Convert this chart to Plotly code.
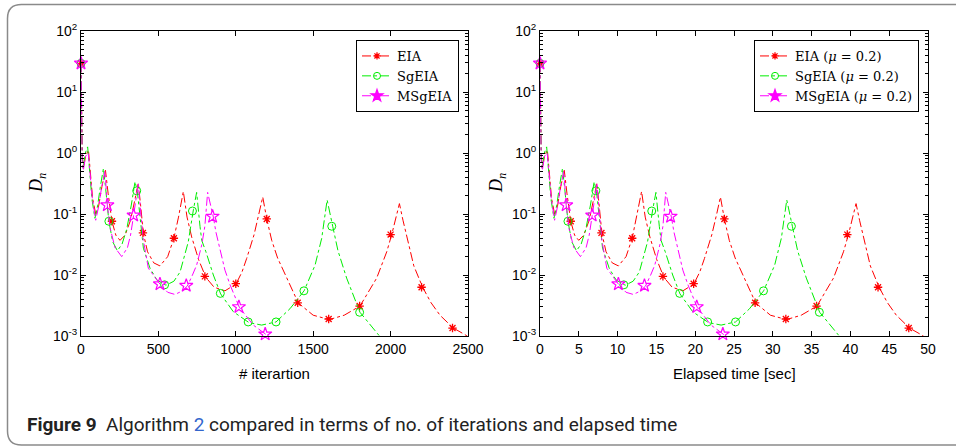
import plotly.graph_objects as go

# ---------------- data ----------------
# EIA (red)
iter_eia = [0, 3, 8, 15, 30, 48, 60, 75, 97, 115,
            135, 158, 175, 200, 225, 252, 285, 320, 350, 370,
            385, 403, 430, 470, 510, 560, 600, 630, 661, 685,
            715, 760, 807, 860, 930, 1001, 1040, 1070, 1118, 1150,
            1174, 1200, 1232, 1270, 1307, 1350, 1404, 1500, 1604, 1700,
            1802, 1910, 1975, 2007, 2035, 2057, 2080, 2109, 2150, 2207,
            2260, 2319, 2405, 2481, 2550]
time_eia = [0, 0.06, 0.16, 0.30, 0.59, 0.95, 1.19, 1.49, 1.92, 2.28,
            2.67, 3.13, 3.47, 3.96, 4.46, 4.99, 5.64, 6.34, 6.93, 7.33,
            7.62, 7.98, 8.51, 9.31, 10.10, 11.09, 11.88, 12.47, 13.09, 13.56,
            14.16, 15.05, 15.98, 17.03, 18.41, 19.82, 20.59, 21.19, 22.14, 22.77,
            23.25, 23.76, 24.39, 25.15, 25.88, 26.73, 27.80, 29.70, 31.76, 33.66,
            35.68, 37.82, 39.11, 39.74, 40.29, 40.73, 41.18, 41.76, 42.57, 43.70,
            44.75, 45.92, 47.62, 49.12, 50.49]
d_eia = [29.5, 4.0, 1.0, 0.56, 0.89, 1.12, 0.45, 0.18, 0.095, 0.14,
         0.28, 0.52, 0.22, 0.076, 0.045, 0.037, 0.045, 0.079, 0.18, 0.32,
         0.14, 0.048, 0.024, 0.0158, 0.0141, 0.020, 0.040, 0.089, 0.234, 0.089,
         0.042, 0.0178, 0.0091, 0.0063, 0.0055, 0.0071, 0.0112, 0.0186, 0.0457, 0.10,
         0.19, 0.083, 0.037, 0.019, 0.012, 0.0066, 0.00347, 0.00219, 0.00186, 0.00219,
         0.00309, 0.0089, 0.024, 0.0457, 0.089, 0.148, 0.079, 0.037, 0.0141, 0.0063,
         0.00355, 0.00219, 0.00135, 0.00105, 0.0008]
mk_iter_eia = [0, 200, 400, 600, 800, 1000, 1200, 1400, 1600, 1800, 2000, 2200, 2400]
mk_time_eia = [0, 3.96, 7.92, 11.88, 15.84, 19.8, 23.76, 27.72, 31.68, 35.64, 39.6, 43.56, 47.52]
mk_d_eia = [29.5, 0.076, 0.049, 0.040, 0.0095, 0.0072, 0.083, 0.0035, 0.0019, 0.0031, 0.046, 0.0063, 0.00135]

# SgEIA (green)
iter_sg = [0, 3, 8, 14, 28, 43, 55, 70, 90, 108,
           125, 145, 160, 180, 205, 235, 265, 295, 325, 349,
           364, 385, 403, 446, 490, 549, 600, 640, 693, 726,
           747, 769, 780, 807, 855, 902, 984, 1085, 1167, 1260,
           1350, 1441, 1512, 1555, 1575, 1590, 1626, 1660, 1716, 1802,
           1931, 1990]
time_sg = [0, 0.06, 0.16, 0.28, 0.56, 0.86, 1.10, 1.40, 1.80, 2.16,
           2.50, 2.90, 3.20, 3.60, 4.10, 4.70, 5.30, 5.90, 6.50, 6.98,
           7.28, 7.70, 8.06, 8.92, 9.80, 10.98, 12.00, 12.80, 13.86, 14.52,
           14.94, 15.38, 15.60, 16.14, 17.10, 18.04, 19.68, 21.70, 23.34, 25.20,
           27.00, 28.82, 30.24, 31.10, 31.50, 31.80, 32.52, 33.20, 34.32, 36.04,
           38.62, 39.80]
d_sg = [29.5, 3.2, 0.8, 0.56, 1.0, 1.26, 0.5, 0.18, 0.085, 0.14,
        0.28, 0.56, 0.25, 0.076, 0.035, 0.025, 0.032, 0.056, 0.14, 0.34,
        0.234, 0.079, 0.0275, 0.0129, 0.0083, 0.0068, 0.0079, 0.0112, 0.035, 0.117,
        0.226, 0.062, 0.037, 0.024, 0.010, 0.0049, 0.0025, 0.00166, 0.00151, 0.0017,
        0.0028, 0.0055, 0.0145, 0.040, 0.089, 0.17, 0.063, 0.025, 0.0089, 0.00245,
        0.00098, 0.0007]
mk_iter_sg = [0, 180, 360, 540, 720, 900, 1080, 1260, 1440, 1620, 1800]
mk_time_sg = [0, 3.6, 7.2, 10.8, 14.4, 18.0, 21.6, 25.2, 28.8, 32.4, 36.0]
mk_d_sg = [29.5, 0.076, 0.24, 0.0069, 0.112, 0.005, 0.0017, 0.0017, 0.0055, 0.063, 0.00245]

# MSgEIA (magenta)
iter_msg = [0, 3, 8, 15, 30, 47, 58, 73, 95, 112,
            132, 155, 170, 190, 220, 263, 300, 320, 340, 355,
            370, 385, 403, 435, 510, 560, 607, 650, 687, 720,
            747, 780, 800, 818, 835, 855, 872, 898, 930, 963,
            1023, 1113, 1195, 1260]
time_msg = [0, 0.06, 0.16, 0.30, 0.59, 0.93, 1.15, 1.45, 1.88, 2.22,
            2.61, 3.07, 3.37, 3.76, 4.36, 5.21, 5.94, 6.34, 6.73, 7.03,
            7.33, 7.62, 7.98, 8.61, 10.10, 11.09, 12.02, 12.87, 13.60, 14.26,
            14.79, 15.44, 15.84, 16.20, 16.53, 16.93, 17.27, 17.78, 18.41, 19.07,
            20.26, 22.04, 23.66, 24.95]
d_msg = [29.5, 2.5, 0.71, 0.52, 0.89, 1.0, 0.5, 0.18, 0.079, 0.126,
         0.26, 0.50, 0.14, 0.056, 0.028, 0.020, 0.028, 0.045, 0.095, 0.18,
         0.32, 0.112, 0.037, 0.0129, 0.0071, 0.0052, 0.0048, 0.0054, 0.0066, 0.010,
         0.0145, 0.031, 0.063, 0.226, 0.15, 0.089, 0.05, 0.025, 0.012, 0.0069,
         0.00295, 0.00151, 0.00105, 0.0008]
mk_iter_msg = [0, 170, 340, 510, 680, 850, 1020, 1190]
mk_time_msg = [0, 3.37, 6.73, 10.1, 13.46, 16.83, 20.2, 23.56]
mk_d_msg = [29.5, 0.14, 0.095, 0.0071, 0.0067, 0.091, 0.003, 0.00107]

names_left = ["EIA", "SgEIA", "MSgEIA"]
names_right = ["EIA (<i>μ</i> = 0.2)", "SgEIA (<i>μ</i> = 0.2)", "MSgEIA (<i>μ</i> = 0.2)"]

x_ticks_left = [0, 500, 1000, 1500, 2000, 2500]
x_ticks_right = [0, 5, 10, 15, 20, 25, 30, 35, 40, 45, 50]
y_tickvals = [1e-3, 1e-2, 1e-1, 1e0, 1e1, 1e2]
y_ticktext = ["10<sup>-3</sup>", "10<sup>-2</sup>", "10<sup>-1</sup>",
              "10<sup>0</sup>", "10<sup>1</sup>", "10<sup>2</sup>"]

W, H = 956, 448

styles = [
    dict(color="#ff0000", symbol="asterisk-open", size=7, lw=1.3),
    dict(color="#00ee00", symbol="circle-open", size=8, lw=1.0),
    dict(color="#ff00ff", symbol="star-open", size=10, lw=1.2),
]

left = [(iter_eia, d_eia, mk_iter_eia, mk_d_eia),
        (iter_sg, d_sg, mk_iter_sg, mk_d_sg),
        (iter_msg, d_msg, mk_iter_msg, mk_d_msg)]
right = [(time_eia, d_eia, mk_time_eia, mk_d_eia),
         (time_sg, d_sg, mk_time_sg, mk_d_sg),
         (time_msg, d_msg, mk_time_msg, mk_d_msg)]

fig = go.Figure()

for panel, xa, ya, names, leg in [(left, "x", "y", names_left, "legend"),
                                   (right, "x2", "y2", names_right, "legend2")]:
    for (xs, ys, mx, my), st, nm in zip(panel, styles, names):
        # curve
        fig.add_trace(go.Scatter(x=xs, y=ys, mode="lines", xaxis=xa, yaxis=ya,
                                 line=dict(color=st["color"], width=1, dash="dashdot"),
                                 showlegend=False, hoverinfo="skip"))
        # markers
        fig.add_trace(go.Scatter(x=mx, y=my, mode="markers", xaxis=xa, yaxis=ya,
                                 marker=dict(symbol=st["symbol"], size=st["size"], color=st["color"],
                                             line=dict(color=st["color"], width=st["lw"])),
                                 showlegend=False, cliponaxis=False))
        # legend entry (star filled in the legend as in the original)
        sym = "star" if st["symbol"] == "star-open" else st["symbol"]
        fig.add_trace(go.Scatter(x=[None], y=[None], mode="lines+markers", xaxis=xa, yaxis=ya,
                                 name=nm, legend=leg,
                                 line=dict(color=st["color"], width=1, dash="dashdot"),
                                 marker=dict(symbol=sym, size=st["size"] - 1, color=st["color"],
                                             line=dict(color=st["color"], width=st["lw"]))))

tick_font = dict(family="Liberation Sans, Arial, sans-serif", size=14, color="black")
minor_y = [k * 10.0 ** e for e in range(-3, 2) for k in range(2, 10)]

def xax(domain, rng, tv, anchor):
    return dict(domain=domain, range=rng, anchor=anchor, tickmode="array", tickvals=tv,
                showline=True, linecolor="black", linewidth=1, mirror="ticks",
                ticks="inside", ticklen=5, tickcolor="black", showgrid=False,
                zeroline=False, tickfont=tick_font, automargin=False)

def yax(anchor):
    return dict(domain=[1 - 336 / H, 1 - 31 / H], type="log", range=[-3, 2], anchor=anchor,
                tickmode="array", tickvals=y_tickvals, ticktext=y_ticktext,
                showline=True, linecolor="black", linewidth=1, mirror="ticks",
                ticks="inside", ticklen=5, tickcolor="black", showgrid=False,
                zeroline=False, tickfont=tick_font, automargin=False,
                minor=dict(tickvals=minor_y, ticks="inside", ticklen=3, tickcolor="black"))

leg_common = dict(yanchor="top", y=1 - 40 / H, xanchor="right",
                  bordercolor="black", borderwidth=1, bgcolor="white",
                  font=dict(family="DejaVu Serif, Liberation Serif, serif", size=13, color="black"),
                  itemwidth=30, tracegroupgap=0, traceorder="normal")

# rounded outer frame (open on the right)
xl, yt, yb, rx, ry = 7.5 / W, 1 - 4.5 / H, 1 - 445 / H, 14 / W, 14 / H
frame = (f"M 1.05,{yt} L {xl + rx},{yt} Q {xl},{yt} {xl},{yt - ry} "
         f"L {xl},{yb + ry} Q {xl},{yb} {xl + rx},{yb} L 1.05,{yb}")

ann_font = dict(family="Liberation Sans, Arial", size=15, color="black")
dn_font = dict(family="Liberation Serif, serif", size=18, color="black")

fig.update_layout(
    template="none",
    width=W, height=H, autosize=False, margin=dict(l=0, r=0, t=0, b=0, pad=0),
    paper_bgcolor="white", plot_bgcolor="white",
    xaxis=xax([81 / W, 468 / W], [0, 2500], x_ticks_left, "y"),
    yaxis=yax("x"),
    xaxis2=xax([540 / W, 928 / W], [0, 50], x_ticks_right, "y2"),
    yaxis2=yax("x2"),
    legend=dict(leg_common, x=459 / W),
    legend2=dict(leg_common, x=919 / W),
    shapes=[dict(type="path", xref="paper", yref="paper", path=frame,
                 line=dict(color="#8a8a8a", width=1.5))],
    annotations=[
        dict(text="# iterartion", x=274.5 / W, y=1 - 373 / H, xanchor="center", yanchor="middle",
             xref="paper", yref="paper", showarrow=False, font=ann_font),
        dict(text="Elapsed time [sec]", x=734 / W, y=1 - 373 / H, xanchor="center", yanchor="middle",
             xref="paper", yref="paper", showarrow=False, font=ann_font),
        dict(text="<i>D</i><sub><i>n</i></sub>", x=38 / W, y=1 - 183 / H, xanchor="center",
             yanchor="middle", xref="paper", yref="paper", textangle=-90, showarrow=False, font=dn_font),
        dict(text="<i>D</i><sub><i>n</i></sub>", x=498 / W, y=1 - 183 / H, xanchor="center",
             yanchor="middle", xref="paper", yref="paper", textangle=-90, showarrow=False, font=dn_font),
        dict(text="<b>Figure 9</b>&nbsp;&nbsp;Algorithm <span style='color:#3366cc'>2</span> "
                  "compared in terms of no. of iterations and elapsed time",
             x=25 / W, y=1 - 424 / H, xref="paper", yref="paper", xanchor="left", yanchor="middle",
             showarrow=False,
             font=dict(family="Roboto, Liberation Sans, Arial", size=19, color="#222222")),
    ],
)

fig.write_html("out.html", config={"displayModeBar": False},
               post_script="document.body.style.margin='0';document.body.style.overflow='hidden';")
